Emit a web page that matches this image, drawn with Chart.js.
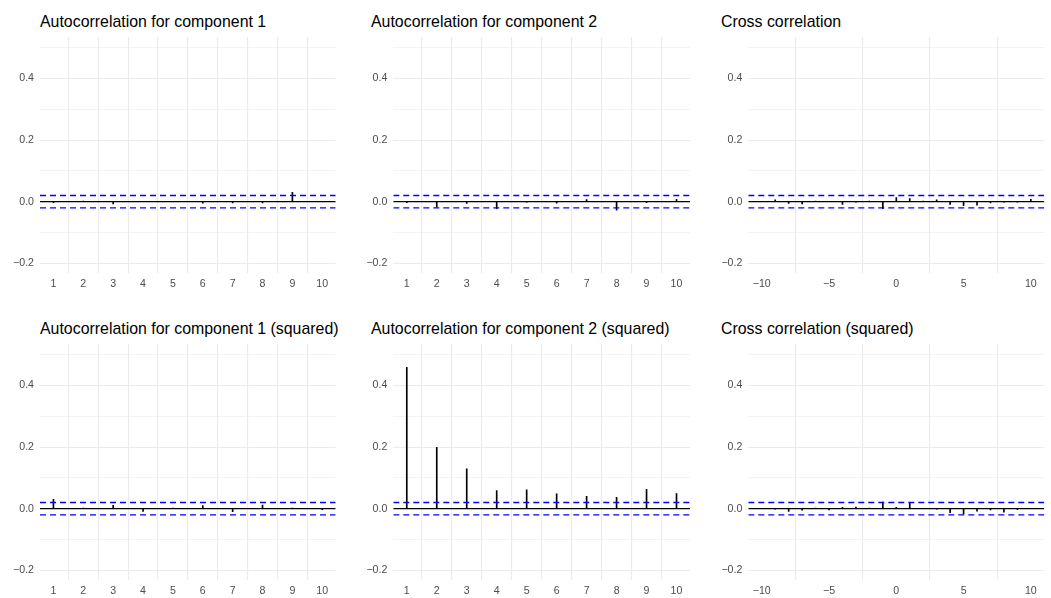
<!DOCTYPE html>
<html>
<head>
<meta charset="utf-8">
<script src="https://cdn.jsdelivr.net/npm/chart.js@4"></script>
<style>
  html, body { margin: 0; padding: 0; background: #fff; overflow: hidden; }
  body { width: 1051px; height: 598px; position: relative; font-family: "Liberation Sans", Arial, sans-serif; }
  .title { position: absolute; font-size: 15.9px; color: #000; white-space: nowrap; line-height: 1.15; }
  .panel { position: absolute; }
</style>
</head>
<body>
<script>
  // lags
  const lags = [1, 2, 3, 4, 5, 6, 7, 8, 9, 10];
  const ccfLags = [-10, -9, -8, -7, -6, -5, -4, -3, -2, -1, 0, 1, 2, 3, 4, 5, 6, 7, 8, 9, 10];

  // correlation values
  const acf1 = [-0.003, 0.002, -0.007, 0.0, 0.0, -0.005, -0.004, -0.004, 0.030, 0.0];
  const acf2 = [-0.003, -0.018, -0.006, -0.023, -0.002, -0.005, 0.007, -0.028, -0.003, 0.008];
  const ccf12 = [0.0, 0.006, -0.006, -0.007, 0.001, 0.0, -0.009, -0.002, 0.001, -0.023, 0.013,
                 0.010, 0.001, 0.006, -0.009, -0.013, -0.011, -0.004, -0.002, -0.001, 0.008];
  const acf1Sq = [0.030, 0.001, 0.011, -0.009, 0.002, 0.010, -0.010, 0.012, 0.001, -0.003];
  const acf2Sq = [0.459, 0.199, 0.129, 0.059, 0.061, 0.048, 0.040, 0.037, 0.063, 0.049];
  const ccf12Sq = [0.0, -0.002, -0.009, -0.005, 0.001, -0.004, 0.004, 0.005, 0.001, 0.021, 0.004,
                   0.017, 0.0, -0.002, -0.013, -0.017, -0.008, -0.004, -0.011, -0.003, 0.0];

  const ciBound = 0.02;
  const yTicks = [-0.2, -0.1, 0, 0.1, 0.2, 0.3, 0.4, 0.5];
  const ccfTicks = [-10, -5, 0, 5, 10];

  const titles = [
    'Autocorrelation for component 1', 'Autocorrelation for component 2', 'Cross correlation',
    'Autocorrelation for component 1 (squared)', 'Autocorrelation for component 2 (squared)', 'Cross correlation (squared)'
  ];

  const minus = s => s.replace('-', '\u2212');

  // layout of the 3x2 grid
  const cols = [
    {left: 0, yW: 40, plotW: 295.7, titleX: 40},
    {left: 350, yW: 43.3, plotW: 296.7, titleX: 371},
    {left: 700, yW: 48.3, plotW: 296, titleX: 721}
  ];
  const rows = [{top: 0, titleTop: 12.5}, {top: 307.3, titleTop: 319.8}];

  const panels = [
    {x: lags, y: acf1, ticks: lags},
    {x: lags, y: acf2, ticks: lags},
    {x: ccfLags, y: ccf12, ticks: ccfTicks},
    {x: lags, y: acf1Sq, ticks: lags},
    {x: lags, y: acf2Sq, ticks: lags},
    {x: ccfLags, y: ccf12Sq, ticks: ccfTicks}
  ];

  panels.forEach((p, i) => {
    const col = cols[i % 3], row = rows[Math.floor(i / 3)];
    const t = document.createElement('div');
    t.className = 'title';
    t.textContent = titles[i];
    t.style.left = col.titleX + 'px';
    t.style.top = row.titleTop + 'px';
    document.body.appendChild(t);

    const w = Math.round(col.yW + col.plotW + 8);
    const h = 290;
    const div = document.createElement('div');
    div.className = 'panel';
    div.style.left = col.left + 'px';
    div.style.top = row.top + 'px';
    const cv = document.createElement('canvas');
    cv.width = w; cv.height = h;
    cv.style.width = w + 'px'; cv.style.height = h + 'px';
    div.appendChild(cv);
    document.body.appendChild(div);

    const xmin = Math.min(...p.x), xmax = Math.max(...p.x);
    const pad = (xmax - xmin) * 0.05;
    const lo = xmin - pad, hi = xmax + pad;

    new Chart(cv, {
      type: 'bar',
      data: {
        datasets: [
          {
            type: 'line', order: 0,
            data: [{x: lo, y: ciBound}, {x: hi, y: ciBound}],
            borderColor: 'blue', borderWidth: 1.4, borderDash: [6, 4], pointRadius: 0
          },
          {
            type: 'line', order: 0,
            data: [{x: lo, y: -ciBound}, {x: hi, y: -ciBound}],
            borderColor: 'blue', borderWidth: 1.4, borderDash: [6, 4], pointRadius: 0
          },
          {
            type: 'line', order: 1,
            data: [{x: lo, y: 0}, {x: hi, y: 0}],
            borderColor: '#000', borderWidth: 1.2, pointRadius: 0
          },
          {
            order: 2,
            data: p.x.map((v, k) => ({x: v, y: p.y[k]})),
            backgroundColor: '#000', barThickness: 1, borderWidth: 0
          }
        ]
      },
      options: {
        responsive: false,
        animation: false,
        events: [],
        layout: {padding: {top: 36.9, left: 0, right: w - col.yW - col.plotW, bottom: 0}},
        plugins: {legend: {display: false}, tooltip: {enabled: false}, title: {display: false}},
        scales: {
          x: {
            type: 'linear', min: lo, max: hi, offset: false,
            afterBuildTicks: ax => { ax.ticks = p.ticks.map(v => ({value: v})); },
            afterFit: ax => { ax.height = h - 273; },
            grid: {color: '#EBEBEB', lineWidth: 1.1, drawTicks: false},
            border: {display: false},
            ticks: {
              color: '#4D4D4D', padding: 5, maxRotation: 0, autoSkip: false,
              font: {family: 'Liberation Sans', size: 10.6},
              callback: v => minus(String(v))
            }
          },
          y: {
            min: -0.2316, max: 0.535,
            afterBuildTicks: ax => { ax.ticks = yTicks.map(v => ({value: v})); },
            afterFit: ax => { ax.width = col.yW; },
            grid: {
              color: '#EBEBEB', drawTicks: false,
              lineWidth: c => (c.index % 2 ? 0.6 : 1.1)
            },
            border: {display: false},
            ticks: {
              color: '#4D4D4D', padding: 6, autoSkip: false,
              font: {family: 'Liberation Sans', size: 10.6},
              callback: (v, k) => (k % 2 ? '' : minus(v.toFixed(1)))
            }
          }
        }
      }
    });
  });
</script>
</body>
</html>
